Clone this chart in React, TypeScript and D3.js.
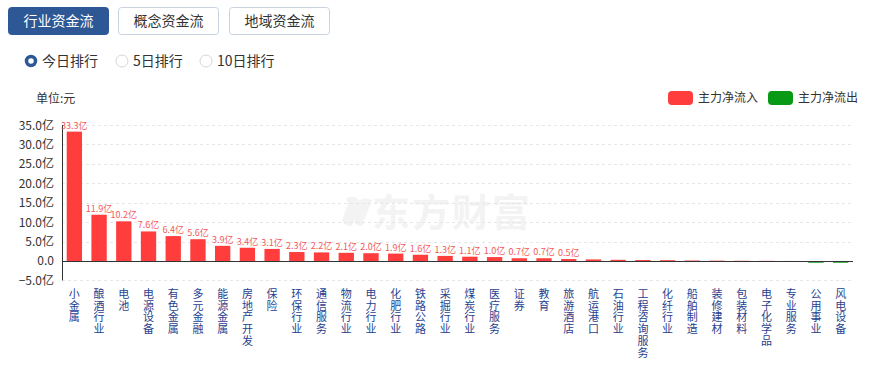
import React from "react";
import * as d3 from "d3";

// 行业资金流 - 今日排行
const categories = [
  "小金属", "酿酒行业", "电池", "电源设备", "有色金属", "多元金融", "能源金属",
  "房地产开发", "保险", "环保行业", "通信服务", "物流行业", "电力行业", "化肥行业",
  "铁路公路", "采掘行业", "煤炭行业", "医疗服务", "证券", "教育", "旅游酒店",
  "航运港口", "石油行业", "工程咨询服务", "化纤行业", "船舶制造", "装修建材",
  "包装材料", "电子化学品", "专业服务", "公用事业", "风电设备",
];
const values = [
  33.3, 11.9, 10.2, 7.6, 6.4, 5.6, 3.9, 3.4, 3.1, 2.3, 2.2, 2.1, 2.0, 1.9, 1.6,
  1.3, 1.1, 1.0, 0.7, 0.7, 0.5, 0.4, 0.3, 0.25, 0.2, 0.12, 0.08, 0.05, 0.03,
  -0.02, -0.45, -0.45,
];
const yTicks = [-5, 0, 5, 10, 15, 20, 25, 30, 35];
const tabs = ["行业资金流", "概念资金流", "地域资金流"];
const radios = ["今日排行", "5日排行", "10日排行"];
const legendItems = [
  { name: "主力净流入", color: "#ff3d3d" },
  { name: "主力净流出", color: "#089a14" },
];

const FONT = "'Noto Sans CJK SC', 'Microsoft YaHei', sans-serif";
const W = 870;
const H = 368;
const left = 62;
const right = 853;
const top = 125;
const bottom = 280.4;

export default function App() {
  const x = d3.scaleBand<string>().domain(categories).range([left, right]).paddingInner(0.38).paddingOuter(0.19);
  const y = d3.scaleLinear().domain([-5, 35]).range([bottom, top]);
  const fmt = (v: number) => (v === 0 ? "0.0" : d3.format(".1f")(v) + "亿");

  const tabX = [8, 118, 229];
  const radioX = [31, 122, 206];

  return (
    <div style={{ position: "absolute", left: 0, top: 0, width: W, height: H, background: "#fff" }}>
      <svg width={W} height={H} style={{ fontFamily: FONT, display: "block" }}>
        {/* tabs */}
        {tabs.map((t, i) => (
          <g key={t}>
            <rect x={tabX[i] + 0.5} y={7.5} width={100} height={27} rx={3}
              fill={i === 0 ? "#2e5796" : "#fff"} stroke={i === 0 ? "#2e5796" : "#c9d3e0"} />
            <text x={tabX[i] + 50.5} y={26} textAnchor="middle" fontSize={14}
              fill={i === 0 ? "#fff" : "#333"}>{t}</text>
          </g>
        ))}
        {/* radios */}
        {radios.map((r, i) => (
          <g key={r}>
            {i === 0 ? (
              <circle cx={radioX[i]} cy={61} r={4.5} fill="#fff" stroke="#2e5796" strokeWidth={3.5} />
            ) : (
              <circle cx={radioX[i]} cy={61} r={6} fill="#fff" stroke="#d6d6d6" />
            )}
            <text x={radioX[i] + 11} y={66} fontSize={14} fill="#333">{r}</text>
          </g>
        ))}
        {/* unit */}
        <text x={36} y={103} fontSize={12} fill="#333">单位:元</text>
        {/* legend */}
        {legendItems.map((l, i) => (
          <g key={l.name}>
            <rect x={668 + i * 100} y={91} width={25} height={14} rx={4} fill={l.color} />
            <text x={698 + i * 100} y={102} fontSize={12} fill="#333">{l.name}</text>
          </g>
        ))}
        {/* watermark */}
        <g opacity={0.045} fill="#000">
          <text x={372} y={226} fontSize={38} fontWeight="bold" letterSpacing={2}>东方财富</text>
          <path d="M346,198 q10,-4 14,4 l-8,24 q-8,0 -10,-6 l6,-16 z M358,202 q6,-6 14,-2 l-10,26 q-6,0 -8,-4 z" />
        </g>
        {/* grid */}
        {yTicks.map((t) => (
          <line key={t} x1={left} x2={right} y1={Math.round(y(t)) + 0.5} y2={Math.round(y(t)) + 0.5}
            stroke={t === 0 ? "#333" : "#e6e6e6"} strokeDasharray={t === 0 ? undefined : "3,3"} strokeWidth={1} />
        ))}
        {/* y axis */}
        <line x1={left + 0.5} x2={left + 0.5} y1={top} y2={bottom} stroke="#333" />
        {yTicks.map((t) => (
          <text key={t} x={54} y={y(t) + 4.5} textAnchor="end" fontSize={12} fill="#333">{fmt(t)}</text>
        ))}
        {/* bars */}
        {categories.map((c, i) => {
          const v = values[i];
          const y0 = y(0);
          const y1 = y(v);
          return (
            <g key={c}>
              <rect x={x(c)} y={Math.min(y0, y1)} width={x.bandwidth()} height={Math.max(Math.abs(y1 - y0), 0.8)}
                fill={v >= 0 ? legendItems[0].color : legendItems[1].color} />
              {v >= 0.5 && (
                <text x={(x(c) as number) + x.bandwidth() / 2} y={y1 - 3} textAnchor="middle" fontSize={9} fill="#f25a5a">
                  {d3.format(".1f")(v) + "亿"}
                </text>
              )}
            </g>
          );
        })}
        {/* redraw zero line over bars */}
        <line x1={left} x2={right} y1={Math.round(y(0)) + 0.5} y2={Math.round(y(0)) + 0.5} stroke="#333" />
        {/* x labels (vertical, one char per line) */}
        {categories.map((c) => {
          const cx = (x(c) as number) + x.bandwidth() / 2;
          return (
            <g key={c}>
              {Array.from(c).map((ch, j) => (
                <text key={j} x={cx} y={298 + j * 11.7} textAnchor="middle" fontSize={11} fill="#1f3f8f">{ch}</text>
              ))}
            </g>
          );
        })}
      </svg>
    </div>
  );
}
